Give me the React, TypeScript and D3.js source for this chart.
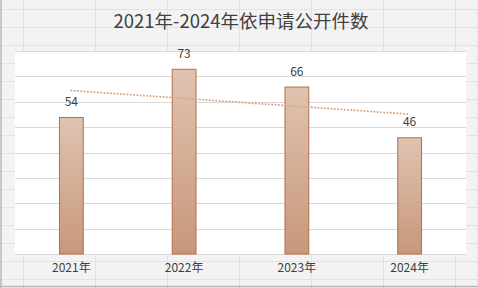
import React from "react";
import * as d3 from "d3";

const categories = ["2021年", "2022年", "2023年", "2024年"];
const values = [54, 73, 66, 46];
const yTicks = [0, 10, 20, 30, 40, 50, 60, 70, 80];
const title = "2021年-2024年依申请公开件数";

const W = 478;
const H = 288;
const plot = { left: 15, right: 466, top: 51, bottom: 254 };
const FONT = "'Noto Sans CJK SC', 'Noto Sans', sans-serif";

export default function App() {
  const x = d3
    .scaleBand<string>()
    .domain(categories)
    .range([plot.left, plot.right])
    .paddingInner(0.78)
    .paddingOuter(0.39);
  const y = d3.scaleLinear().domain([0, 80]).range([plot.bottom, plot.top]);

  // linear trendline (least squares) over the bars
  const xs = values.map((_, i) => i + 1);
  const mx = d3.mean(xs)!;
  const my = d3.mean(values)!;
  const slope =
    d3.sum(xs.map((xi, i) => (xi - mx) * (values[i] - my))) /
    d3.sum(xs.map((xi) => (xi - mx) ** 2));
  const icpt = my - slope * mx;
  const trend = categories.map((c, i) => [
    x(c)! + x.bandwidth() / 2,
    y(icpt + slope * (i + 1)),
  ]) as [number, number][];
  const line = d3.line();

  // spreadsheet background grid
  const colLines = d3.range(23.5, W, 72);
  const rowLines = d3.range(9.5, H - 2, 18);

  return (
    <svg
      width={W}
      height={H}
      style={{ position: "absolute", left: 0, top: 0 }}
      fontFamily={FONT}
    >
      <defs>
        <linearGradient id="barGrad" x1="0" y1="0" x2="0" y2="1">
          <stop offset="0%" stopColor="#dfc3b0" />
          <stop offset="100%" stopColor="#c8977a" />
        </linearGradient>
      </defs>
      <rect x={0} y={0} width={W} height={H} fill="#f3f3f3" />
      {colLines.map((cx) => (
        <line key={"c" + cx} x1={cx} x2={cx} y1={0} y2={H} stroke="#e2e2e2" strokeWidth={1} />
      ))}
      {rowLines.map((ry) => (
        <line key={"r" + ry} x1={0} x2={W} y1={ry} y2={ry} stroke="#e2e2e2" strokeWidth={1} />
      ))}
      <line x1={477.5} x2={477.5} y1={0} y2={H} stroke="#e6e6e6" strokeWidth={1} />
      <line x1={1} x2={1} y1={0} y2={H} stroke="#b8b8b8" strokeWidth={1.5} />
      <line x1={0} x2={W} y1={286.5} y2={286.5} stroke="#b8b8b8" strokeWidth={1.5} />

      <rect
        x={plot.left}
        y={plot.top}
        width={plot.right - plot.left}
        height={plot.bottom - plot.top}
        fill="#ffffff"
      />
      {yTicks.map((t) => (
        <line
          key={t}
          x1={plot.left}
          x2={plot.right}
          y1={Math.round(y(t)) + 0.5}
          y2={Math.round(y(t)) + 0.5}
          stroke="#d9d9d9"
          strokeWidth={1}
        />
      ))}

      {categories.map((c, i) => (
        <g key={c}>
          <rect
            x={x(c)! + 0.5}
            y={y(values[i]) + 0.5}
            width={x.bandwidth() - 1}
            height={plot.bottom - y(values[i]) - 0.5}
            fill="url(#barGrad)"
            stroke="#b3704c"
            strokeWidth={1}
          />
          <text
            x={x(c)! + x.bandwidth() / 2}
            y={y(values[i]) - 11}
            textAnchor="middle"
            fontSize={12}
            fill="#404040"
          >
            {values[i]}
          </text>
          <text
            x={x(c)! + x.bandwidth() / 2}
            y={272}
            textAnchor="middle"
            fontSize={12}
            fill="#404040"
          >
            {c}
          </text>
        </g>
      ))}

      <path
        d={line(trend)!}
        fill="none"
        stroke="#d5a88b"
        strokeWidth={2}
        strokeDasharray="0.1 3.2"
        strokeLinecap="round"
      />

      <text x={241} y={28} textAnchor="middle" fontSize={18.5} fill="#404040">
        {title}
      </text>
    </svg>
  );
}
